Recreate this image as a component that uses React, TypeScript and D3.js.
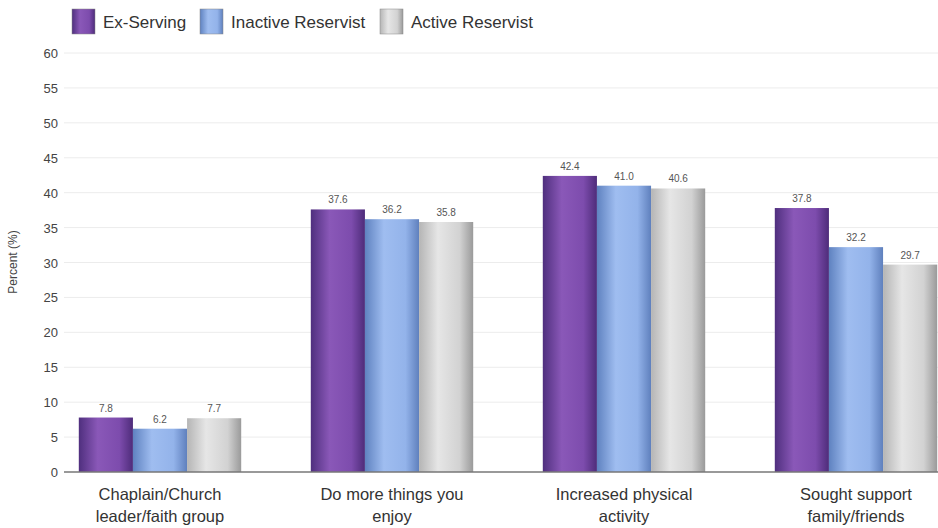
import React from "react";
import * as d3 from "d3";

const categories = [
  ["Chaplain/Church", "leader/faith group"],
  ["Do more things you", "enjoy"],
  ["Increased physical", "activity"],
  ["Sought support", "family/friends"],
];
const seriesNames = ["Ex-Serving", "Inactive Reservist", "Active Reservist"];
const exServing = [7.8, 37.6, 42.4, 37.8];
const inactiveReservist = [6.2, 36.2, 41.0, 32.2];
const activeReservist = [7.7, 35.8, 40.6, 29.7];
const yTicks = [0, 5, 10, 15, 20, 25, 30, 35, 40, 45, 50, 55, 60];

const W = 938;
const H = 528;

const gradStops = [
  ["#4f2f7e", "#8a58b8", "#7d4cad", "#4e2c7a"],
  ["#5f82c0", "#9fbdf0", "#93b3ea", "#5f80bd"],
  ["#b5b5b5", "#e6e6e6", "#d2d2d2", "#9a9a9a"],
];

export default function App() {
  const series = [exServing, inactiveReservist, activeReservist];
  const y = d3.scaleLinear().domain([0, 60]).range([472, 53]);
  const x0 = d3
    .scaleBand<number>()
    .domain(categories.map((_, i) => i))
    .range([44, 972])
    .paddingInner(0.3)
    .paddingOuter(0.15);
  const x1 = d3
    .scaleBand<number>()
    .domain([0, 1, 2])
    .range([0, x0.bandwidth()]);
  const font = "'Liberation Sans', Arial, sans-serif";
  const legendX = [72, 200, 380];
  return (
    <svg width={W} height={H} style={{ position: "absolute", left: 0, top: 0, fontFamily: font }}>
      <defs>
        {gradStops.map((s, i) => (
          <linearGradient key={i} id={`g${i}`} x1="0" x2="1" y1="0" y2="0">
            <stop offset="0%" stopColor={s[0]} />
            <stop offset="35%" stopColor={s[1]} />
            <stop offset="75%" stopColor={s[2]} />
            <stop offset="100%" stopColor={s[3]} />
          </linearGradient>
        ))}
      </defs>
      <rect width={W} height={H} fill="#fff" />
      {seriesNames.map((n, i) => (
        <g key={n}>
          <rect x={legendX[i]} y={9} width={23} height={25} fill={`url(#g${i})`} stroke="#888" strokeWidth={0.5} />
          <text x={legendX[i] + 31} y={28} fontSize={17} fill="#333">
            {n}
          </text>
        </g>
      ))}
      {yTicks.map((t) => (
        <g key={t}>
          {t > 0 && <line x1={64} x2={W} y1={y(t)} y2={y(t)} stroke="#ececec" strokeWidth={1} />}
          <text x={58} y={y(t) + 5} fontSize={13} textAnchor="end" fill="#444">
            {t}
          </text>
        </g>
      ))}
      <text
        transform={`translate(17,262) rotate(-90)`}
        fontSize={12}
        textAnchor="middle"
        fill="#444"
      >
        Percent (%)
      </text>
      {categories.map((c, ci) => (
        <g key={ci} transform={`translate(${x0(ci)},0)`}>
          {series.map((s, si) => (
            <g key={si}>
              <rect
                x={x1(si)}
                y={y(s[ci])}
                width={x1.bandwidth()}
                height={y(0) - y(s[ci])}
                fill={`url(#g${si})`}
              />
              <text
                x={(x1(si) as number) + x1.bandwidth() / 2}
                y={y(s[ci]) - 6}
                fontSize={10}
                textAnchor="middle"
                fill="#555"
              >
                {s[ci].toFixed(1)}
              </text>
            </g>
          ))}
          {c.map((line, li) => (
            <text
              key={li}
              x={x0.bandwidth() / 2}
              y={500 + li * 22}
              fontSize={16.5}
              textAnchor="middle"
              fill="#333"
            >
              {line}
            </text>
          ))}
        </g>
      ))}
      <line x1={64} x2={W} y1={y(0)} y2={y(0)} stroke="#777" strokeWidth={1.5} />
    </svg>
  );
}
